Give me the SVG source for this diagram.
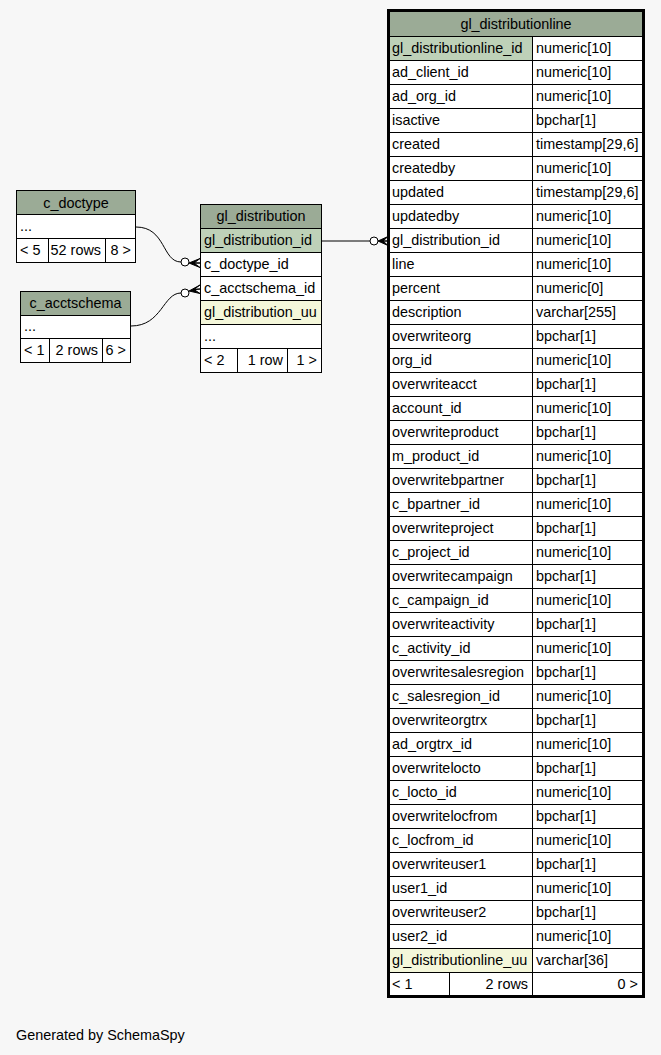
<svg xmlns="http://www.w3.org/2000/svg" width="661" height="1055" viewBox="0 0 661 1055">
<style>
text{font-family:"Liberation Sans",Arial,sans-serif;font-size:14.4px;fill:#000}
.c{text-anchor:middle}
.r{text-anchor:end}
.hd{fill:#9bab96}
.pk{fill:#bed1b8}
.uu{fill:#f4f7da}
.bd{fill:#fff}
.ln{stroke:#000;stroke-width:1;fill:none}
.edge{stroke:#000;stroke-width:1;fill:none}
.odot{stroke:#000;stroke-width:1;fill:#fff}
.crow{fill:#000;stroke:#000;stroke-width:1}
</style>
<rect width="661" height="1055" fill="#f7f7f7"/>

<g id="c_doctype">
<rect x="16.5" y="190.5" width="119" height="72" class="bd"/>
<rect x="16.5" y="190.5" width="119" height="24" class="hd"/>
<path class="ln" d="M16.5,214.5H135.5M16.5,238.5H135.5M48.5,238.5V262.5M105.5,238.5V262.5"/>
<rect x="16.5" y="190.5" width="119" height="72" class="ln"/>
<text x="76" y="208" class="c">c_doctype</text>
<text x="20" y="231">...</text>
<text x="20" y="255">&lt; 5</text>
<text x="101" y="255" class="r">52 rows</text>
<text x="131" y="255" class="r">8 &gt;</text>
</g>

<g id="c_acctschema">
<rect x="20.5" y="291.5" width="110" height="71" class="bd"/>
<rect x="20.5" y="291.5" width="110" height="24" class="hd"/>
<path class="ln" d="M20.5,315.5H130.5M20.5,338.5H130.5M49.5,338.5V362.5M102.5,338.5V362.5"/>
<rect x="20.5" y="291.5" width="110" height="71" class="ln"/>
<text x="75.5" y="308" class="c">c_acctschema</text>
<text x="24" y="331">...</text>
<text x="24" y="355">&lt; 1</text>
<text x="98" y="355" class="r">2 rows</text>
<text x="126" y="355" class="r">6 &gt;</text>
</g>

<g id="gl_distribution">
<rect x="200.5" y="204.5" width="121" height="168" class="bd"/>
<rect x="200.5" y="204.5" width="121" height="24" class="hd"/>
<rect x="200.5" y="228.5" width="121" height="24" class="pk"/>
<rect x="200.5" y="300.5" width="121" height="24" class="uu"/>
<path class="ln" d="M200.5,228.5H321.5M200.5,252.5H321.5M200.5,276.5H321.5M200.5,300.5H321.5M200.5,324.5H321.5M200.5,348.5H321.5M237.5,348.5V372.5M287.5,348.5V372.5"/>
<rect x="200.5" y="204.5" width="121" height="168" class="ln"/>
<text x="261" y="221" class="c">gl_distribution</text>
<text x="204" y="245">gl_distribution_id</text>
<text x="204" y="269">c_doctype_id</text>
<text x="204" y="293">c_acctschema_id</text>
<text x="204" y="317">gl_distribution_uu</text>
<text x="204" y="341">...</text>
<text x="204" y="365">&lt; 2</text>
<text x="283" y="365" class="r">1 row</text>
<text x="317" y="365" class="r">1 &gt;</text>
</g>

<g id="gl_distributionline">
<rect x="388.5" y="10.5" width="255" height="986" class="bd"/>
<rect x="388.5" y="10.5" width="255" height="26" class="hd"/>
<rect x="389" y="36.5" width="143.5" height="24" class="pk"/>
<rect x="389" y="948.5" width="143.5" height="24" class="uu"/>
<path class="ln" d="M388.5,36.5H643.5M388.5,60.5H643.5M388.5,84.5H643.5M388.5,108.5H643.5M388.5,132.5H643.5M388.5,156.5H643.5M388.5,180.5H643.5M388.5,204.5H643.5M388.5,228.5H643.5M388.5,252.5H643.5M388.5,276.5H643.5M388.5,300.5H643.5M388.5,324.5H643.5M388.5,348.5H643.5M388.5,372.5H643.5M388.5,396.5H643.5M388.5,420.5H643.5M388.5,444.5H643.5M388.5,468.5H643.5M388.5,492.5H643.5M388.5,516.5H643.5M388.5,540.5H643.5M388.5,564.5H643.5M388.5,588.5H643.5M388.5,612.5H643.5M388.5,636.5H643.5M388.5,660.5H643.5M388.5,684.5H643.5M388.5,708.5H643.5M388.5,732.5H643.5M388.5,756.5H643.5M388.5,780.5H643.5M388.5,804.5H643.5M388.5,828.5H643.5M388.5,852.5H643.5M388.5,876.5H643.5M388.5,900.5H643.5M388.5,924.5H643.5M388.5,948.5H643.5M388.5,972.5H643.5M532.5,36.5V996.5M449.5,972.5V996.5"/>
<rect x="388.5" y="10.5" width="255" height="986" stroke="#000" stroke-width="3" fill="none"/>
<text x="516" y="29" class="c">gl_distributionline</text>
<g>
<text x="392" y="53">gl_distributionline_id</text><text x="536" y="53">numeric[10]</text>
<text x="392" y="77">ad_client_id</text><text x="536" y="77">numeric[10]</text>
<text x="392" y="101">ad_org_id</text><text x="536" y="101">numeric[10]</text>
<text x="392" y="125">isactive</text><text x="536" y="125">bpchar[1]</text>
<text x="392" y="149">created</text><text x="536" y="149">timestamp[29,6]</text>
<text x="392" y="173">createdby</text><text x="536" y="173">numeric[10]</text>
<text x="392" y="197">updated</text><text x="536" y="197">timestamp[29,6]</text>
<text x="392" y="221">updatedby</text><text x="536" y="221">numeric[10]</text>
<text x="392" y="245">gl_distribution_id</text><text x="536" y="245">numeric[10]</text>
<text x="392" y="269">line</text><text x="536" y="269">numeric[10]</text>
<text x="392" y="293">percent</text><text x="536" y="293">numeric[0]</text>
<text x="392" y="317">description</text><text x="536" y="317">varchar[255]</text>
<text x="392" y="341">overwriteorg</text><text x="536" y="341">bpchar[1]</text>
<text x="392" y="365">org_id</text><text x="536" y="365">numeric[10]</text>
<text x="392" y="389">overwriteacct</text><text x="536" y="389">bpchar[1]</text>
<text x="392" y="413">account_id</text><text x="536" y="413">numeric[10]</text>
<text x="392" y="437">overwriteproduct</text><text x="536" y="437">bpchar[1]</text>
<text x="392" y="461">m_product_id</text><text x="536" y="461">numeric[10]</text>
<text x="392" y="485">overwritebpartner</text><text x="536" y="485">bpchar[1]</text>
<text x="392" y="509">c_bpartner_id</text><text x="536" y="509">numeric[10]</text>
<text x="392" y="533">overwriteproject</text><text x="536" y="533">bpchar[1]</text>
<text x="392" y="557">c_project_id</text><text x="536" y="557">numeric[10]</text>
<text x="392" y="581">overwritecampaign</text><text x="536" y="581">bpchar[1]</text>
<text x="392" y="605">c_campaign_id</text><text x="536" y="605">numeric[10]</text>
<text x="392" y="629">overwriteactivity</text><text x="536" y="629">bpchar[1]</text>
<text x="392" y="653">c_activity_id</text><text x="536" y="653">numeric[10]</text>
<text x="392" y="677">overwritesalesregion</text><text x="536" y="677">bpchar[1]</text>
<text x="392" y="701">c_salesregion_id</text><text x="536" y="701">numeric[10]</text>
<text x="392" y="725">overwriteorgtrx</text><text x="536" y="725">bpchar[1]</text>
<text x="392" y="749">ad_orgtrx_id</text><text x="536" y="749">numeric[10]</text>
<text x="392" y="773">overwritelocto</text><text x="536" y="773">bpchar[1]</text>
<text x="392" y="797">c_locto_id</text><text x="536" y="797">numeric[10]</text>
<text x="392" y="821">overwritelocfrom</text><text x="536" y="821">bpchar[1]</text>
<text x="392" y="845">c_locfrom_id</text><text x="536" y="845">numeric[10]</text>
<text x="392" y="869">overwriteuser1</text><text x="536" y="869">bpchar[1]</text>
<text x="392" y="893">user1_id</text><text x="536" y="893">numeric[10]</text>
<text x="392" y="917">overwriteuser2</text><text x="536" y="917">bpchar[1]</text>
<text x="392" y="941">user2_id</text><text x="536" y="941">numeric[10]</text>
<text x="392" y="965">gl_distributionline_uu</text><text x="536" y="965">varchar[36]</text>
<text x="392" y="989">&lt; 1</text>
<text x="528" y="989" class="r">2 rows</text>
<text x="638" y="989" class="r">0 &gt;</text>
</g>
</g>

<g id="connectors">
<path class="edge" d="M136,227C166,227 162,262 181,262"/>
<circle class="odot" cx="185" cy="262" r="4"/>
<path class="crow" d="M189,263L200,258.5L194,263L200,263L194,263L200,267.5Z"/>
<path class="edge" d="M131,326C162,326 163,293 181,293"/>
<circle class="odot" cx="185" cy="293" r="4"/>
<path class="crow" d="M189,291L200,285L194,289.5L200,289L194,289.5L200,293.5Z"/>
<path class="edge" d="M322,241H370"/>
<circle class="odot" cx="374" cy="241" r="4"/>
<path class="crow" d="M378,241L388,236.5L383,241L388,241L383,241L388,245.5Z"/>
</g>

<text x="16" y="1040">Generated by SchemaSpy</text>
</svg>
